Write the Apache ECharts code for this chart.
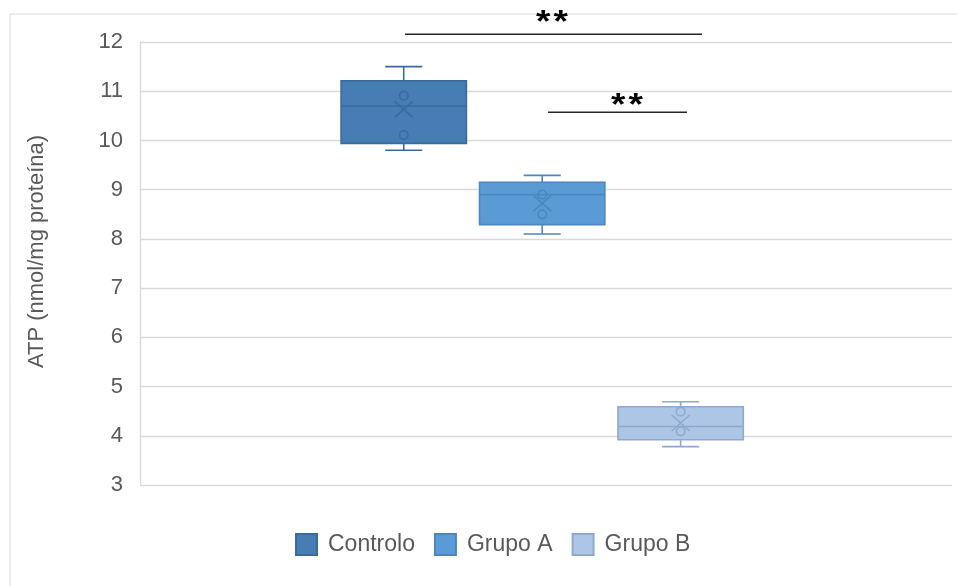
<!DOCTYPE html>
<html>
<head>
<meta charset="utf-8">
<script src="https://cdn.jsdelivr.net/npm/echarts@6/dist/echarts.min.js"></script>
<style>html,body{margin:0;padding:0;background:#fff;}#c{width:957px;height:586px;}</style>
</head>
<body>
<div id="c"></div>
<script>
// ---- data ----
var categories = ['Controlo', 'Grupo A', 'Grupo B'];
var positions = [1, 2, 3];
var whiskerMin = [9.8, 8.1, 3.78];
var q1 = [9.94, 8.29, 3.92];
var median = [10.7, 8.9, 4.19];
var q3 = [11.21, 9.15, 4.59];
var whiskerMax = [11.5, 9.29, 4.69];
var mean = [10.63, 8.72, 4.26];
var innerPoints = [[10.91, 10.11], [8.9, 8.5], [4.49, 4.09]];
var yTicks = [3, 4, 5, 6, 7, 8, 9, 10, 11, 12];
var yTitle = 'ATP (nmol/mg proteína)';
var sigLabel = '*\u200A*';

var fills = ['#477db5', '#5b9bd5', '#adc6e6'];
var strokes = ['#3b6b9c', '#4b87be', '#8fa9cc'];

var chart = echarts.init(document.getElementById('c'), null, {renderer: 'canvas'});

function makeRender(i) {
  return function (params, api) {
    var x = api.value(0);
    var bw = api.size([0.905, 0])[0];
    var hw = bw / 2;
    var cw = bw * 0.148;
    var pMin = api.coord([x, api.value(1)]);
    var pQ1 = api.coord([x, api.value(2)]);
    var pMed = api.coord([x, api.value(3)]);
    var pQ3 = api.coord([x, api.value(4)]);
    var pMax = api.coord([x, api.value(5)]);
    var pMean = api.coord([x, api.value(6)]);
    var cx = pMed[0];
    var st = {stroke: strokes[i], lineWidth: 1.6, fill: null};
    var children = [
      {type: 'line', shape: {x1: cx, y1: pMax[1], x2: cx, y2: pQ3[1]}, style: st},
      {type: 'line', shape: {x1: cx - cw, y1: pMax[1], x2: cx + cw, y2: pMax[1]}, style: st},
      {type: 'line', shape: {x1: cx, y1: pMin[1], x2: cx, y2: pQ1[1]}, style: st},
      {type: 'line', shape: {x1: cx - cw, y1: pMin[1], x2: cx + cw, y2: pMin[1]}, style: st},
      {type: 'rect', shape: {x: cx - hw, y: pQ3[1], width: bw, height: pQ1[1] - pQ3[1]},
        style: {fill: fills[i], stroke: strokes[i], lineWidth: 1.6}},
      {type: 'line', shape: {x1: cx - hw, y1: pMed[1], x2: cx + hw, y2: pMed[1]}, style: st},
      {type: 'line', shape: {x1: cx - 9, y1: pMean[1] - 8, x2: cx + 9, y2: pMean[1] + 8}, style: st},
      {type: 'line', shape: {x1: cx - 9, y1: pMean[1] + 8, x2: cx + 9, y2: pMean[1] - 8}, style: st}
    ];
    innerPoints[i].forEach(function (v) {
      var p = api.coord([x, v]);
      children.push({type: 'circle', shape: {cx: p[0], cy: p[1], r: 4.3}, style: st});
    });
    return {type: 'group', children: children};
  };
}

var series = categories.map(function (name, i) {
  return {
    name: name,
    type: 'custom',
    renderItem: makeRender(i),
    itemStyle: {color: fills[i], borderColor: strokes[i], borderWidth: 1.5},
    encode: {x: 0, y: [1, 2, 3, 4, 5]},
    data: [[positions[i], whiskerMin[i], q1[i], median[i], q3[i], whiskerMax[i], mean[i]]],
    silent: true,
    animation: false
  };
});

chart.setOption({
  animation: false,
  backgroundColor: '#ffffff',
  textStyle: {fontFamily: 'Liberation Sans, Arial, sans-serif'},
  grid: {left: 140, right: 5, top: 42, bottom: 101, containLabel: false},
  xAxis: {
    type: 'value', min: -0.905, max: 4.96,
    show: false
  },
  yAxis: {
    type: 'value', min: yTicks[0], max: yTicks[yTicks.length - 1], interval: 1,
    axisLine: {show: true, onZero: false, lineStyle: {color: '#d9d9d9', width: 1.3}},
    axisTick: {show: false},
    splitLine: {show: true, lineStyle: {color: '#d9d9d9', width: 1.3}},
    axisLabel: {fontSize: 22, color: '#595959', margin: 17, fontFamily: 'Liberation Sans, Arial, sans-serif'},
    name: yTitle,
    nameLocation: 'middle',
    nameRotate: 90,
    nameGap: 92,
    nameTextStyle: {fontSize: 22, color: '#595959', padding: [0, 0, 0, 24], fontFamily: 'Liberation Sans, Arial, sans-serif'}
  },
  legend: {
    data: categories,
    left: 290, top: 528,
    icon: 'rect',
    itemWidth: 21, itemHeight: 21, itemGap: 19,
    textStyle: {fontSize: 23, color: '#595959', padding: [0, 0, 0, 6]},
    selectedMode: false
  },
  graphic: [
    {type: 'rect', silent: true, shape: {x: 10, y: 14, width: 1000, height: 1000},
      style: {fill: null, stroke: '#d9d9d9', lineWidth: 1}},
    {type: 'line', silent: true, shape: {x1: 405, y1: 34.3, x2: 702, y2: 34.3},
      style: {stroke: '#262626', lineWidth: 1.5}},
    {type: 'line', silent: true, shape: {x1: 548, y1: 112.3, x2: 687, y2: 112.3},
      style: {stroke: '#262626', lineWidth: 1.5}},
    {type: 'text', silent: true, x: 552, y: 39, scaleY: 0.85,
      style: {text: sigLabel, fontSize: 37, fontWeight: 'bold', fill: '#000', align: 'center', verticalAlign: 'bottom', fontFamily: 'Liberation Sans, Arial, sans-serif'}},
    {type: 'text', silent: true, x: 627, y: 122, scaleY: 0.85,
      style: {text: sigLabel, fontSize: 37, fontWeight: 'bold', fill: '#000', align: 'center', verticalAlign: 'bottom', fontFamily: 'Liberation Sans, Arial, sans-serif'}}
  ],
  series: series
});
</script>
</body>
</html>
